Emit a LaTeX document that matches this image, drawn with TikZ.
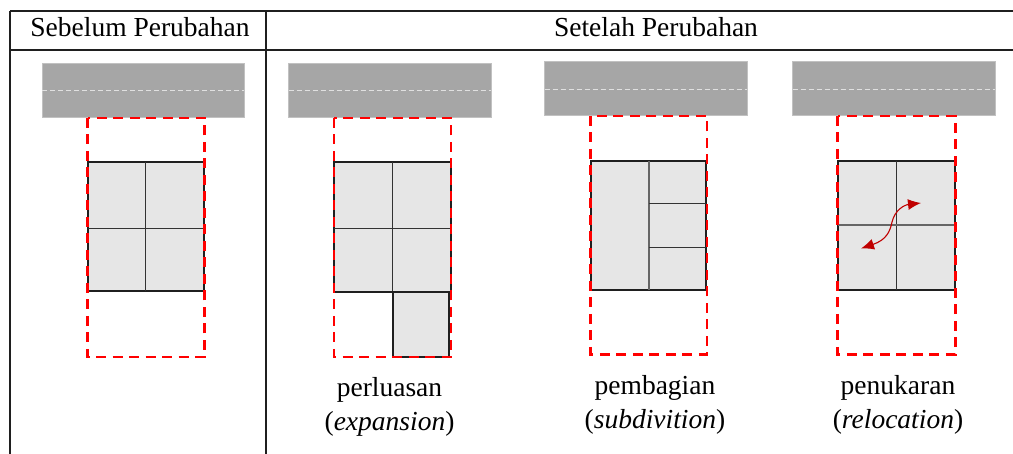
\documentclass[tikz,border=0pt]{standalone}
\usepackage{fontspec}
\setmainfont{Liberation Serif}
\usetikzlibrary{arrows.meta}
\definecolor{roadgray}{HTML}{A6A6A6}
\definecolor{bldfill}{HTML}{E6E6E6}
\definecolor{arrowred}{HTML}{C00000}
\tikzset{
  road/.style={fill=roadgray, draw=roadgray!70!white, line width=1pt},
  roadline/.style={draw=white!88!black, line width=1pt, dash pattern=on 5pt off 3pt},
  lot/.style={draw=red, line width=2.8pt, dash pattern=on 10pt off 6.5pt},
  bld/.style={fill=bldfill, draw=black!88, line width=2pt},
  inner/.style={draw=black!80, line width=1.1pt},
  tline/.style={draw=black!88, line width=1.6pt},
  hdr/.style={font=\fontsize{27.5}{34}\selectfont, anchor=base, inner sep=0pt},
  lbl/.style={font=\fontsize{27.5}{34}\selectfont, align=center, anchor=north, inner sep=0pt},
  swap/.style={draw=arrowred, line width=1.1pt, {Latex[length=13pt,width=11pt]}-{Latex[length=13pt,width=11pt]}}
}
\begin{document}
\begin{tikzpicture}[x=1pt,y=-1pt]
\useasboundingbox (0,0) rectangle (1013,454);
% table
\draw[tline] (10,11) -- (1013,11);
\draw[tline, line width=2.2pt] (10,50) -- (1013,50);
\draw[tline] (10,11) -- (10,454);
\draw[tline] (266,11) -- (266,454);
\node[hdr] (h1) at (140,37) {Sebelum Perubahan};
\node[hdr] (h2) at (656,37) {Setelah Perubahan};

% panel 1
\fill[road] (42,64) rectangle (244,118);
\draw[roadline] (42,91) -- (244,91);
\draw[bld] (87.5,162.5) rectangle (204,291.5);
\draw[inner] (145.7,162.5) -- (145.7,291.5);
\draw[inner] (87.5,228.3) -- (204,228.3);
\draw[lot] (87.5,118) rectangle (204.5,357);

% panel 2
\fill[road] (288.5,64) rectangle (491,118);
\draw[roadline] (288.5,91) -- (491,91);
\draw[bld] (334,162.5) rectangle (450.7,292);
\draw[inner] (392.3,162.5) -- (392.3,292);
\draw[inner] (334,228.3) -- (450.7,228.3);
\draw[bld] (392.7,292) rectangle (449.3,356.7);
\draw[lot] (334,118) rectangle (451,357);
\node[lbl] (l1) at (389.5,377) {perluasan\\(\textit{expansion})};

% panel 3
\fill[road] (544.5,62) rectangle (747.3,116);
\draw[roadline] (544.5,89.3) -- (747.3,89.3);
\draw[bld] (590.7,161.3) rectangle (706.3,290);
\draw[inner, draw=black!60, line width=1.5pt] (649,161.3) -- (649,290);
\draw[inner] (649,203.3) -- (706.3,203.3);
\draw[inner] (649,247.3) -- (706.3,247.3);
\draw[lot] (590.7,116) rectangle (707,354.3);
\node[lbl] (l2) at (655,375) {pembagian\\(\textit{subdivition})};

% panel 4
\fill[road] (792.5,62) rectangle (995,116);
\draw[roadline] (792.5,89.3) -- (995,89.3);
\draw[bld] (837.7,161.3) rectangle (954.7,290);
\draw[inner] (896.3,161.3) -- (896.3,290);
\draw[inner, draw=black!60, line width=1.5pt] (837.7,225) -- (954.7,225);
\draw[lot] (837.7,116) rectangle (955.3,354.3);
\coordinate (a1) at (861,248.5);
\coordinate (a2) at (921,203);
\draw[swap] (a1) .. controls (886,240) and (890,232) .. (892,222)
                 .. controls (895,210) and (904,205) .. (a2);
\node[lbl] (l3) at (898,375) {penukaran\\(\textit{relocation})};
\end{tikzpicture}
\end{document}
